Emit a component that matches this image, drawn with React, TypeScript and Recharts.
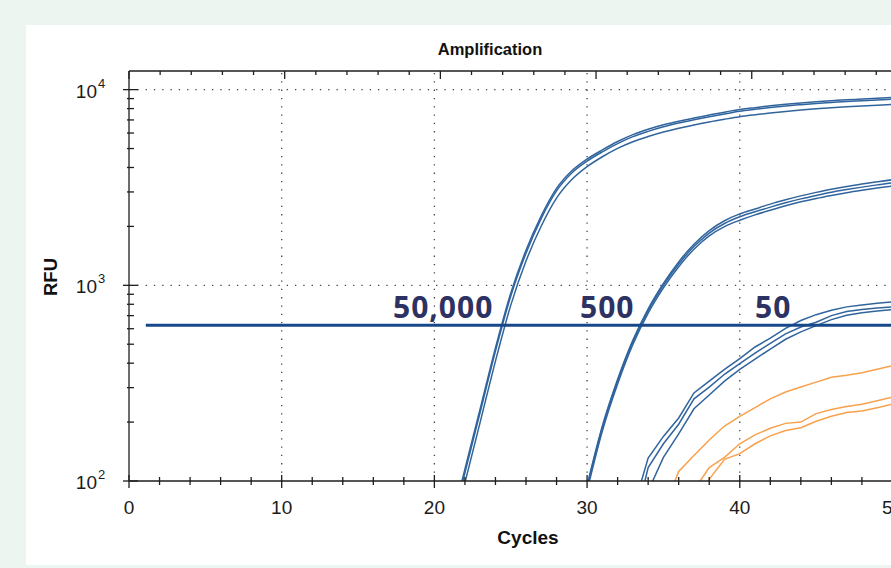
import { LineChart, Line, XAxis, YAxis, ReferenceLine } from 'recharts';

// cycle index for every row of the table
const cycles = [
  1, 2, 3, 4, 5, 6, 7, 8, 9, 10, 11, 12, 13, 14, 15, 16, 17, 18, 19, 20, 21, 22, 23, 24, 25, 26,
  27, 28, 29, 30, 31, 32, 33, 34, 35, 36, 37, 38, 39, 40, 41, 42, 43, 44, 45, 46, 47, 48, 49, 50, 51, 52,
];
const xTicks = [0, 2, 4, 6, 8, 10, 12, 14, 16, 18, 20, 22, 24, 26, 28, 30, 32, 34, 36, 38, 40, 42, 44, 46, 48, 50, 52];
const yTicks = [
  100, 200, 300, 400, 500, 600, 700, 800, 900,
  1000, 2000, 3000, 4000, 5000, 6000, 7000, 8000, 9000, 10000,
];
const xGrid = [10, 20, 30, 40, 50];
const yGrid = [1000, 10000];

const threshold = 625;
const thresholdFrom = 1.1;

// 50,000 copies (from cycle 20)
const a1 = [28, 56, 115, 234, 479, 912, 1510, 2265, 3126, 3846, 4416, 4920, 5430, 5890, 6270, 6610, 6900, 7160, 7410, 7670, 7910, 8090, 8260, 8410, 8550, 8670, 8770, 8870, 8950, 9040, 9120, 9180, 9250];
const a2 = [27, 54, 110, 225, 462, 880, 1460, 2200, 3040, 3750, 4310, 4810, 5300, 5750, 6120, 6460, 6750, 7010, 7260, 7510, 7750, 7930, 8100, 8250, 8380, 8500, 8600, 8700, 8780, 8860, 8940, 9000, 9060];
const a3 = [24, 48, 98, 200, 410, 790, 1330, 2010, 2790, 3470, 4040, 4540, 5010, 5420, 5760, 6070, 6350, 6600, 6840, 7060, 7270, 7440, 7600, 7740, 7870, 7980, 8080, 8170, 8250, 8320, 8390, 8450, 8510];

// 500 copies (from cycle 29)
const b1 = [44, 95, 191, 331, 525, 759, 1023, 1318, 1622, 1905, 2138, 2317, 2455, 2600, 2735, 2865, 2985, 3100, 3200, 3290, 3380, 3465, 3530, 3590];
const b2 = [43, 93, 187, 324, 514, 742, 1000, 1285, 1578, 1850, 2070, 2240, 2375, 2510, 2640, 2765, 2880, 2990, 3085, 3175, 3260, 3340, 3405, 3465];
const b3 = [41, 89, 180, 313, 498, 720, 970, 1245, 1530, 1790, 1995, 2150, 2290, 2420, 2550, 2670, 2780, 2880, 2975, 3060, 3140, 3215, 3280, 3340];

// 50 copies (from cycle 33)
const c1 = [71, 131, 169, 210, 282, 324, 372, 422, 484, 537, 603, 661, 708, 746, 776, 794, 809, 822, 832, 841];
const c2 = [56, 117, 155, 195, 263, 302, 351, 398, 450, 505, 565, 612, 648, 700, 735, 752, 765, 775, 784, 792];
const c3 = [35, 89, 132, 174, 234, 275, 324, 372, 420, 472, 530, 578, 622, 668, 703, 725, 740, 752, 760, 767];

// orange traces (d1 from cycle 35, d2/d3 from cycle 37)
const d1 = [71, 112, 135, 162, 191, 214, 237, 263, 285, 302, 320, 339, 347, 357, 372, 389, 403, 417];
const d2 = [90, 117, 132, 155, 172, 186, 197, 200, 221, 232, 240, 247, 257, 268, 275, 285];
const d3 = [63, 102, 129, 138, 155, 170, 181, 187, 202, 214, 224, 228, 237, 247, 254, 263];

const BLUE = '#30649d';
const ORANGE = '#f8a14c';

const series = [
  { key: 'a1', start: 20, values: a1, color: BLUE, curve: 'monotone' },
  { key: 'a2', start: 20, values: a2, color: BLUE, curve: 'monotone' },
  { key: 'a3', start: 20, values: a3, color: BLUE, curve: 'monotone' },
  { key: 'b1', start: 29, values: b1, color: BLUE, curve: 'monotone' },
  { key: 'b2', start: 29, values: b2, color: BLUE, curve: 'monotone' },
  { key: 'b3', start: 29, values: b3, color: BLUE, curve: 'monotone' },
  { key: 'c1', start: 33, values: c1, color: BLUE, curve: 'linear' },
  { key: 'c2', start: 33, values: c2, color: BLUE, curve: 'linear' },
  { key: 'c3', start: 33, values: c3, color: BLUE, curve: 'linear' },
  { key: 'd1', start: 35, values: d1, color: ORANGE, curve: 'linear' },
  { key: 'd2', start: 37, values: d2, color: ORANGE, curve: 'linear' },
  { key: 'd3', start: 37, values: d3, color: ORANGE, curve: 'linear' },
] as const;

const data = cycles.map((c) => {
  const row: Record<string, number | null> = { cycle: c };
  series.forEach((s) => {
    const i = c - s.start;
    row[s.key] = i >= 0 && i < s.values.length ? s.values[i] : null;
  });
  return row;
});

const AXIS = '#1e1e1e';
const TICK_FONT = '"Liberation Sans", Arial, sans-serif';

function BottomTick({ x, y, payload }: any) {
  const major = payload.value % 10 === 0;
  return (
    <g>
      <line x1={x} x2={x} y1={y - (major ? 6 : 4)} y2={y + (major ? 7 : 4)} stroke={AXIS} strokeWidth={1.3} />
      {major && (
        <text x={x} y={y + 33} textAnchor="middle" fontSize={19} fontFamily={TICK_FONT} fill="#1b1b1b">
          {payload.value}
        </text>
      )}
    </g>
  );
}

function TopTick({ x, y, payload }: any) {
  const major = payload.value % 10 === 0;
  return <line x1={x} x2={x} y1={y} y2={y + (major ? 8 : 4)} stroke={AXIS} strokeWidth={1.3} />;
}

function LeftTick({ x, y, payload }: any) {
  const lg = Math.log10(payload.value);
  const exp = Math.round(lg);
  const major = Math.abs(lg - exp) < 1e-6;
  return (
    <g>
      <line x1={x - (major ? 6 : 2)} x2={x + (major ? 9 : 5)} y1={y} y2={y} stroke={AXIS} strokeWidth={1.3} />
      {major && (
        <g fontFamily={TICK_FONT} fill="#1b1b1b">
          <text x={x - 32} y={y + 8} textAnchor="end" fontSize={19}>10</text>
          <text x={x - 31} y={y - 2} fontSize={13}>{exp}</text>
        </g>
      )}
    </g>
  );
}

const copyLabels = [
  { text: '50,000', x: 393 },
  { text: '500', x: 580 },
  { text: '50', x: 755 },
];

export default function App() {
  return (
    <div style={{ position: 'absolute', left: 0, top: 0, width: 891, height: 568, overflow: 'hidden', background: '#edf5f0' }}>
      <div style={{ position: 'absolute', left: 26, top: 25, width: 900, height: 540, background: '#ffffff' }} />
      <div style={{ position: 'absolute', left: 0, top: 0 }}>
        <LineChart width={1000} height={568} data={data} margin={{ top: 61, right: 77, bottom: 57, left: 69 }}>
          <XAxis
            dataKey="cycle"
            type="number"
            domain={[0, 52]}
            ticks={xTicks}
            allowDataOverflow
            height={30}
            tickSize={0}
            tickMargin={0}
            tickLine={false}
            axisLine={{ stroke: AXIS, strokeWidth: 1.3 }}
            tick={BottomTick}
            interval={0}
          />
          <XAxis
            xAxisId="top"
            orientation="top"
            type="number"
            domain={[0, 52]}
            ticks={xTicks}
            allowDataOverflow
            height={10}
            tickSize={0}
            tickMargin={0}
            tickLine={false}
            axisLine={{ stroke: AXIS, strokeWidth: 1.3 }}
            tick={TopTick}
            interval={0}
          />
          <YAxis
            type="number"
            scale="log"
            domain={[100, 12450]}
            ticks={yTicks}
            allowDataOverflow
            width={60}
            tickSize={0}
            tickMargin={0}
            tickLine={false}
            axisLine={{ stroke: AXIS, strokeWidth: 1.3 }}
            tick={LeftTick}
            interval={0}
          />
          {xGrid.map((v) => (
            <ReferenceLine key={`gx${v}`} x={v} stroke="#444" strokeWidth={1.3} strokeDasharray="1.3 7" />
          ))}
          {yGrid.map((v) => (
            <ReferenceLine key={`gy${v}`} y={v} stroke="#444" strokeWidth={1.3} strokeDasharray="1.3 7" />
          ))}
          {series.map((s) => (
            <Line
              key={s.key}
              type={s.curve}
              dataKey={s.key}
              stroke={s.color}
              strokeWidth={1.5}
              dot={false}
              activeDot={false}
              connectNulls={false}
              isAnimationActive={false}
            />
          ))}
          <ReferenceLine
            segment={[
              { x: thresholdFrom, y: threshold },
              { x: 52, y: threshold },
            ]}
            stroke="#17498a"
            strokeWidth={3}
          />
        </LineChart>
      </div>
      <svg width={891} height={568} style={{ position: 'absolute', left: 0, top: 0, pointerEvents: 'none' }}>
        <text x={490} y={55} textAnchor="middle" fontSize={16.5} fontWeight="bold" fontFamily={TICK_FONT} fill="#111">
          Amplification
        </text>
        <text x={528} y={544} textAnchor="middle" fontSize={19} fontWeight="bold" fontFamily={TICK_FONT} fill="#111">
          Cycles
        </text>
        <text
          x={57}
          y={277}
          textAnchor="middle"
          fontSize={18.5}
          fontWeight="bold"
          fontFamily={TICK_FONT}
          fill="#111"
          transform="rotate(-90 57 277)"
        >
          RFU
        </text>
        {copyLabels.map((l) => (
          <text
            key={l.text}
            x={l.x}
            y={318}
            fontSize={30}
            fontWeight="bold"
            fontFamily='"Open Sans", sans-serif'
            letterSpacing={1}
            fill="#2d3262"
          >
            {l.text}
          </text>
        ))}
      </svg>
    </div>
  );
}
